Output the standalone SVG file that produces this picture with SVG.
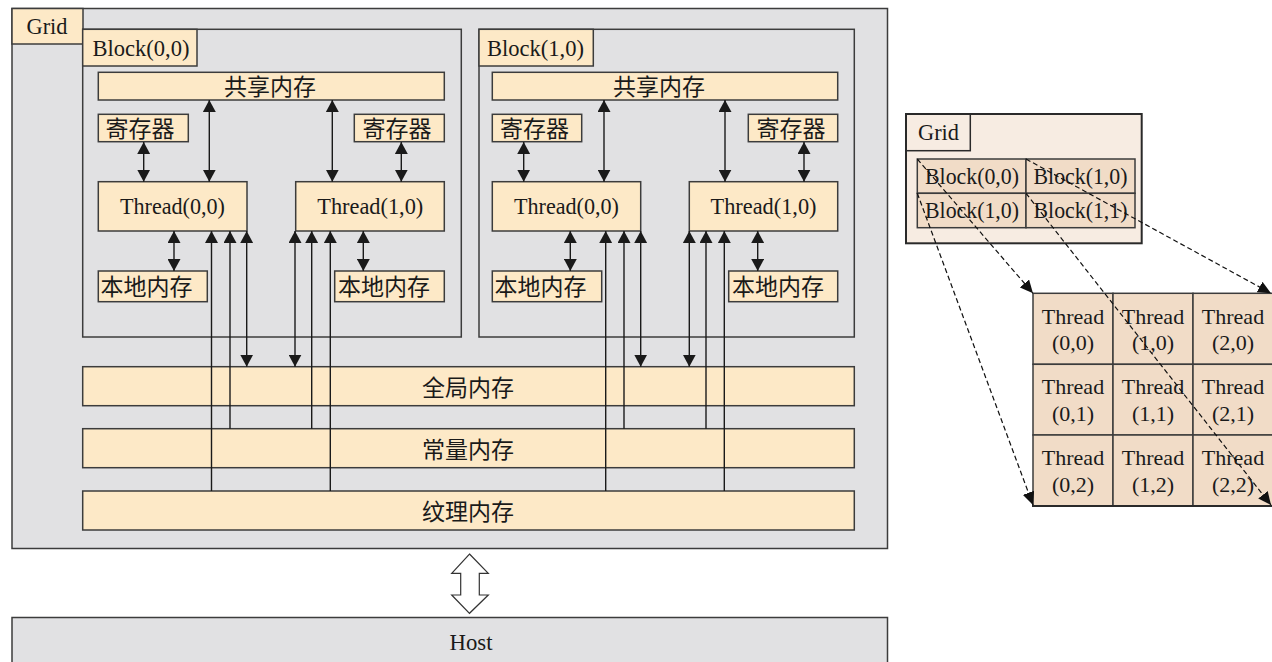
<svg xmlns="http://www.w3.org/2000/svg" width="1272" height="662" viewBox="0 0 1272 662">
<defs>
<marker id="ah" markerUnits="userSpaceOnUse" markerWidth="13" markerHeight="13" refX="12" refY="6.5" orient="auto-start-reverse" viewBox="0 0 13 13">
<path d="M0,0 L12,6.5 L0,13 z" fill="#1a1a1a"/>
</marker>
<marker id="dh" markerUnits="userSpaceOnUse" markerWidth="14" markerHeight="12" refX="13" refY="6" orient="auto" viewBox="0 0 14 12">
<path d="M0,0 L13,6 L0,12 z" fill="#111"/>
</marker>
</defs>
<style>
.gray{fill:#e1e1e3;stroke:#3c3c3c;stroke-width:1.5}
.box{fill:#fde9c7;stroke:#3c3c3c;stroke-width:1.5}
.blk{fill:none;stroke:#3c3c3c;stroke-width:1.5}
.lat{font-family:"Liberation Serif","Times New Roman",serif;font-size:22px;fill:#1a1a1a;text-anchor:middle}
.big{font-size:24px}
.cjk{font-family:"Noto Sans CJK SC",sans-serif;font-size:23px;fill:#1a1a1a;text-anchor:middle}
.cn{stroke:#1a1a1a;stroke-width:1.4;fill:none}
.dash{stroke:#111;stroke-width:1.2;stroke-dasharray:5 3;fill:none}
.rg{fill:#f7ece2;stroke:#2a2a2a;stroke-width:2}
.cell{fill:#f1dcc7;stroke:#3c3c3c;stroke-width:1.5}
</style>

<g id="grid">
<rect class="gray" x="12" y="8.5" width="875.5" height="540"/>
<rect class="box" x="12" y="8.5" width="71" height="35.5"/>
<text class="lat big" x="47" y="34" textLength="41" lengthAdjust="spacingAndGlyphs">Grid</text>
</g>

<g id="block00">
<rect class="blk" x="82.7" y="29.3" width="378.6" height="307.7"/>
<rect class="box" x="82.7" y="29.3" width="114.3" height="36.7"/>
<text class="lat big" x="141" y="55.5" textLength="97" lengthAdjust="spacingAndGlyphs">Block(0,0)</text>
<g id="b0-shared"><rect class="box" x="98.3" y="72.3" width="346" height="27.7"/><text class="cjk" x="270" y="95">共享内存</text></g>
<g id="b0-reg0"><rect class="box" x="98.3" y="114.3" width="90" height="27.4"/><text class="cjk" x="140" y="136.5">寄存器</text></g>
<g id="b0-reg1"><rect class="box" x="354.3" y="114.3" width="90" height="27.4"/><text class="cjk" x="397" y="136.5">寄存器</text></g>
<g id="b0-t0"><rect class="box" x="98.3" y="181.7" width="148.7" height="49.3"/><text class="lat big" x="172.5" y="213.5" textLength="105" lengthAdjust="spacingAndGlyphs">Thread(0,0)</text></g>
<g id="b0-t1"><rect class="box" x="295.7" y="181.7" width="148.6" height="49.3"/><text class="lat big" x="370.3" y="213.5" textLength="106" lengthAdjust="spacingAndGlyphs">Thread(1,0)</text></g>
<g id="b0-l0"><rect class="box" x="98.3" y="271" width="109" height="30.7"/><text class="cjk" x="146.5" y="295">本地内存</text></g>
<g id="b0-l1"><rect class="box" x="334.7" y="271" width="109.6" height="30.7"/><text class="cjk" x="384" y="295">本地内存</text></g>
</g>

<g id="block10">
<rect class="blk" x="479" y="29.3" width="375.3" height="307.7"/>
<rect class="box" x="479" y="29.3" width="114.3" height="36.7"/>
<text class="lat big" x="535.5" y="55.5" textLength="97" lengthAdjust="spacingAndGlyphs">Block(1,0)</text>
<g id="b1-shared"><rect class="box" x="492.3" y="72.3" width="345.4" height="27.7"/><text class="cjk" x="659" y="95">共享内存</text></g>
<g id="b1-reg0"><rect class="box" x="492.3" y="114.3" width="89.4" height="27.4"/><text class="cjk" x="534.5" y="136.5">寄存器</text></g>
<g id="b1-reg1"><rect class="box" x="748.3" y="114.3" width="89.4" height="27.4"/><text class="cjk" x="791" y="136.5">寄存器</text></g>
<g id="b1-t0"><rect class="box" x="492.3" y="181.7" width="148.4" height="49.3"/><text class="lat big" x="566.5" y="213.5" textLength="105" lengthAdjust="spacingAndGlyphs">Thread(0,0)</text></g>
<g id="b1-t1"><rect class="box" x="689.3" y="181.7" width="148.4" height="49.3"/><text class="lat big" x="763.5" y="213.5" textLength="106" lengthAdjust="spacingAndGlyphs">Thread(1,0)</text></g>
<g id="b1-l0"><rect class="box" x="492.3" y="271" width="109.4" height="30.7"/><text class="cjk" x="540.5" y="295">本地内存</text></g>
<g id="b1-l1"><rect class="box" x="728.7" y="271" width="109" height="30.7"/><text class="cjk" x="778" y="295">本地内存</text></g>
</g>

<g id="global"><rect class="box" x="82.7" y="366.7" width="771.6" height="39"/><text class="cjk" x="468" y="395.5">全局内存</text></g>
<g id="const"><rect class="box" x="82.7" y="428.7" width="771.6" height="39"/><text class="cjk" x="468" y="457.5">常量内存</text></g>
<g id="texture"><rect class="box" x="82.7" y="491" width="771.6" height="39"/><text class="cjk" x="468" y="519.8">纹理内存</text></g>

<g id="host">
<rect class="gray" x="12" y="617.5" width="875.5" height="50"/>
<text class="lat big" x="471" y="650" textLength="43" lengthAdjust="spacingAndGlyphs">Host</text>
</g>

<g id="connectors">
<line class="cn" x1="143.7" y1="142" x2="143.7" y2="181.7" marker-start="url(#ah)" marker-end="url(#ah)"/>
<line class="cn" x1="209.3" y1="100" x2="209.3" y2="181.7" marker-start="url(#ah)" marker-end="url(#ah)"/>
<line class="cn" x1="332.3" y1="100" x2="332.3" y2="181.7" marker-start="url(#ah)" marker-end="url(#ah)"/>
<line class="cn" x1="401.3" y1="142" x2="401.3" y2="181.7" marker-start="url(#ah)" marker-end="url(#ah)"/>
<line class="cn" x1="174" y1="231" x2="174" y2="271" marker-start="url(#ah)" marker-end="url(#ah)"/>
<line class="cn" x1="363.3" y1="231" x2="363.3" y2="271" marker-start="url(#ah)" marker-end="url(#ah)"/>
<line class="cn" x1="211.5" y1="491" x2="211.5" y2="231" marker-end="url(#ah)"/>
<line class="cn" x1="230" y1="428.7" x2="230" y2="231" marker-end="url(#ah)"/>
<line class="cn" x1="246.7" y1="366.7" x2="246.7" y2="231" marker-start="url(#ah)" marker-end="url(#ah)"/>
<line class="cn" x1="295" y1="366.7" x2="295" y2="231" marker-start="url(#ah)" marker-end="url(#ah)"/>
<line class="cn" x1="311.7" y1="428.7" x2="311.7" y2="231" marker-end="url(#ah)"/>
<line class="cn" x1="330.3" y1="491" x2="330.3" y2="231" marker-end="url(#ah)"/>
<line class="cn" x1="523.7" y1="142" x2="523.7" y2="181.7" marker-start="url(#ah)" marker-end="url(#ah)"/>
<line class="cn" x1="604" y1="100" x2="604" y2="181.7" marker-start="url(#ah)" marker-end="url(#ah)"/>
<line class="cn" x1="725" y1="100" x2="725" y2="181.7" marker-start="url(#ah)" marker-end="url(#ah)"/>
<line class="cn" x1="804" y1="142" x2="804" y2="181.7" marker-start="url(#ah)" marker-end="url(#ah)"/>
<line class="cn" x1="570.3" y1="231" x2="570.3" y2="271" marker-start="url(#ah)" marker-end="url(#ah)"/>
<line class="cn" x1="757.7" y1="231" x2="757.7" y2="271" marker-start="url(#ah)" marker-end="url(#ah)"/>
<line class="cn" x1="605.7" y1="491" x2="605.7" y2="231" marker-end="url(#ah)"/>
<line class="cn" x1="624" y1="428.7" x2="624" y2="231" marker-end="url(#ah)"/>
<line class="cn" x1="640.7" y1="366.7" x2="640.7" y2="231" marker-start="url(#ah)" marker-end="url(#ah)"/>
<line class="cn" x1="689.3" y1="366.7" x2="689.3" y2="231" marker-start="url(#ah)" marker-end="url(#ah)"/>
<line class="cn" x1="706" y1="428.7" x2="706" y2="231" marker-end="url(#ah)"/>
<line class="cn" x1="724.3" y1="491" x2="724.3" y2="231" marker-end="url(#ah)"/>
<polygon points="469.5,554 488.3,573.3 479.3,573.3 479.3,595 488.3,595 469.5,613.3 451.7,595 460.7,595 460.7,573.3 451.7,573.3" fill="#fff" stroke="#333" stroke-width="1.2"/>
</g>

<g id="grid-small">
<rect class="rg" x="906" y="114" width="235.7" height="129.3"/>
<rect fill="none" stroke="#2a2a2a" stroke-width="1.5" x="906" y="114" width="64.3" height="36.7"/>
<text class="lat big" x="938.5" y="140" textLength="41" lengthAdjust="spacingAndGlyphs">Grid</text>
<g id="sb00"><rect class="cell" x="917.3" y="159" width="108.7" height="34.3"/><text class="lat big" x="972" y="183.5" textLength="94" lengthAdjust="spacingAndGlyphs">Block(0,0)</text></g>
<g id="sb10"><rect class="cell" x="1026" y="159" width="109" height="34.3"/><text class="lat big" x="1080.5" y="183.5" textLength="94" lengthAdjust="spacingAndGlyphs">Block(1,0)</text></g>
<g id="sb01"><rect class="cell" x="917.3" y="193.3" width="108.7" height="34.4"/><text class="lat big" x="972" y="218" textLength="94" lengthAdjust="spacingAndGlyphs">Block(1,0)</text></g>
<g id="sb11"><rect class="cell" x="1026" y="193.3" width="109" height="34.4"/><text class="lat big" x="1080.5" y="218" textLength="94" lengthAdjust="spacingAndGlyphs">Block(1,1)</text></g>
</g>

<g id="threads">
<g id="t00"><rect class="cell" x="1033" y="293.3" width="80" height="71"/><text class="lat" x="1073" y="323.5">Thread</text><text class="lat" x="1073" y="350">(0,0)</text></g>
<g id="t10"><rect class="cell" x="1113" y="293.3" width="80" height="71"/><text class="lat" x="1153" y="323.5">Thread</text><text class="lat" x="1153" y="350">(1,0)</text></g>
<g id="t20"><rect class="cell" x="1193" y="293.3" width="80" height="71"/><text class="lat" x="1233" y="323.5">Thread</text><text class="lat" x="1233" y="350">(2,0)</text></g>
<g id="t01"><rect class="cell" x="1033" y="364.3" width="80" height="70.7"/><text class="lat" x="1073" y="394.3">Thread</text><text class="lat" x="1073" y="421">(0,1)</text></g>
<g id="t11"><rect class="cell" x="1113" y="364.3" width="80" height="70.7"/><text class="lat" x="1153" y="394.3">Thread</text><text class="lat" x="1153" y="421">(1,1)</text></g>
<g id="t21"><rect class="cell" x="1193" y="364.3" width="80" height="70.7"/><text class="lat" x="1233" y="394.3">Thread</text><text class="lat" x="1233" y="421">(2,1)</text></g>
<g id="t02"><rect class="cell" x="1033" y="435" width="80" height="71"/><text class="lat" x="1073" y="465">Thread</text><text class="lat" x="1073" y="492">(0,2)</text></g>
<g id="t12"><rect class="cell" x="1113" y="435" width="80" height="71"/><text class="lat" x="1153" y="465">Thread</text><text class="lat" x="1153" y="492">(1,2)</text></g>
<g id="t22"><rect class="cell" x="1193" y="435" width="80" height="71"/><text class="lat" x="1233" y="465">Thread</text><text class="lat" x="1233" y="492">(2,2)</text></g>
<line x1="1032" y1="506" x2="1273" y2="506" stroke="#2a2a2a" stroke-width="2.2"/>
</g>

<g id="zoom-connectors">
<line class="dash" x1="917.3" y1="159" x2="1033" y2="293.3" marker-end="url(#dh)"/>
<line class="dash" x1="1026" y1="159" x2="1271" y2="293.3" marker-end="url(#dh)"/>
<line class="dash" x1="917.3" y1="193.3" x2="1033" y2="505" marker-end="url(#dh)"/>
<line class="dash" x1="1026" y1="193.3" x2="1271" y2="505" marker-end="url(#dh)"/>
</g>
</svg>
